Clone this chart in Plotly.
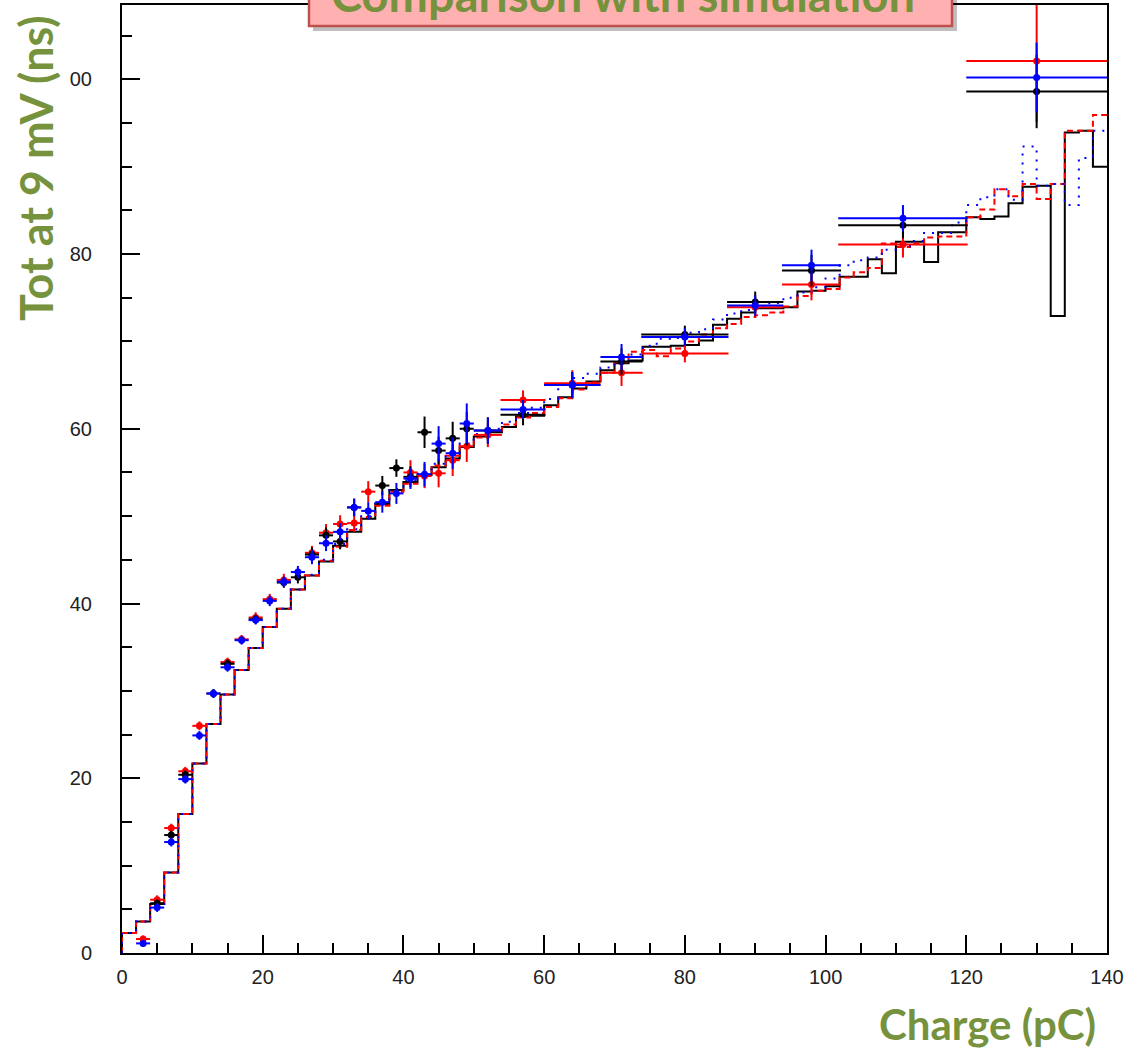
import plotly.graph_objects as go

# ---------------- data ----------------
bin_edges = list(range(0, 141, 2))  # 0..140, 2 pC bins

black_hist = [2.3, 3.6, 5.6, 9.2, 15.9, 21.7, 26.2, 29.6, 32.4, 34.9,
              37.3, 39.4, 41.6, 43.2, 44.8, 46.6, 48.2, 49.7, 51.4, 53.0,
              53.9, 54.7, 55.6, 56.6, 57.9, 59.1, 59.6, 60.2, 61.4, 61.5,
              62.7, 63.6, 64.6, 65.4, 66.7, 67.5, 67.8, 69.4, 69.4, 69.5,
              69.6, 70.1, 71.9, 72.6, 73.3, 73.8, 73.8, 73.9, 75.7, 75.8,
              76.3, 77.4, 77.4, 79.4, 77.8, 81.4, 81.4, 79.1, 82.5, 82.5,
              84.2, 84.0, 84.3, 85.8, 87.7, 87.8, 72.9, 93.9, 94.1, 90.0]

red_hist = [2.3, 3.6, 5.6, 9.2, 15.9, 21.7, 26.2, 29.6, 32.4, 34.9,
            37.3, 39.4, 41.6, 43.2, 44.9, 46.5, 48.4, 49.9, 51.2, 52.8,
            53.7, 54.6, 55.8, 56.9, 58.1, 59.0, 59.8, 60.5, 61.3, 61.8,
            62.5, 63.5, 64.5, 65.3, 66.4, 67.6, 68.8, 69.0, 68.3, 69.2,
            70.0, 70.8, 71.5, 72.0, 72.8, 73.0, 73.3, 74.0, 75.2, 75.8,
            76.0, 77.3, 77.9, 78.4, 81.2, 80.8, 81.2, 81.9, 82.0, 82.0,
            84.2, 85.1, 87.4, 86.6, 88.0, 86.3, 88.0, 94.1, 94.1, 95.9]

blue_hist = [2.3, 3.6, 5.6, 9.2, 15.9, 21.7, 26.2, 29.6, 32.4, 34.9,
             37.3, 39.4, 41.6, 43.3, 45.0, 46.8, 48.5, 50.0, 51.6, 53.1,
             54.1, 55.0, 56.0, 57.0, 58.3, 59.4, 60.0, 60.8, 61.8, 62.4,
             63.4, 65.0, 65.8, 66.3, 67.0, 67.6, 68.5, 69.5, 70.3, 70.4,
             71.0, 71.4, 72.5, 73.2, 73.6, 74.0, 74.4, 75.0, 75.6, 76.2,
             77.2, 78.7, 79.3, 79.6, 80.5, 80.9, 81.5, 82.4, 82.4, 83.6,
             85.6, 86.5, 87.4, 86.2, 92.3, 87.8, 88.0, 85.6, 91.0, 94.1]

black_x = [5, 7, 9, 13, 15, 19, 23, 25, 27, 29, 31, 33, 37, 39, 41, 43, 45, 47, 49,
           52, 57, 64, 71, 80, 90, 98, 111, 130]
black_y = [5.7, 13.5, 20.4, 29.7, 33.1, 38.2, 42.4, 43.0, 45.6, 47.8, 47.1, 51.0, 53.5,
           55.5, 54.5, 59.6, 57.5, 58.9, 60.0, 59.8, 61.6, 65.0, 67.7, 70.8, 74.5, 78.1,
           83.3, 98.6]
black_ex = [1] * 19 + [2, 3.2, 4, 3, 6.2, 4, 4.2, 9.2, 10]
black_ey = [0.4, 0.5, 0.5, 0.5, 0.5, 0.5, 0.6, 0.7, 0.8, 0.9, 0.9, 1.0, 1.1, 1.0, 1.2,
            1.8, 1.6, 1.9, 1.9, 1.5, 1.2, 1.5, 1.5, 1.0, 1.2, 1.8, 1.5, 4.2]

red_x = [3, 5, 7, 9, 11, 15, 17, 19, 21, 23, 27, 29, 31, 33, 35, 41, 43, 45, 47, 49,
         52, 57, 64, 71, 80, 90, 98, 111, 130]
red_y = [1.6, 6.1, 14.3, 20.8, 26.0, 33.3, 35.9, 38.4, 40.5, 42.7, 45.8, 48.1, 49.1,
         49.2, 52.8, 55.0, 54.6, 54.9, 56.4, 58.0, 59.3, 63.3, 65.2, 66.4, 68.6, 73.9,
         76.5, 81.1, 102.1]
red_ex = [1] * 20 + [2, 3.2, 4, 3, 6.2, 4, 4.2, 9.2, 10]
red_ey = [0.4, 0.5, 0.5, 0.5, 0.5, 0.5, 0.5, 0.6, 0.6, 0.7, 0.8, 1.0, 1.0, 1.0, 1.2,
          1.4, 1.4, 1.6, 1.8, 1.8, 1.4, 1.1, 1.5, 1.5, 1.0, 1.2, 1.8, 1.5, 7.0]

blue_x = [3, 5, 7, 9, 11, 13, 15, 17, 19, 21, 23, 25, 27, 29, 31, 33, 35, 37, 39, 41,
          43, 45, 47, 49, 52, 57, 64, 71, 80, 90, 98, 111, 130]
blue_y = [1.1, 5.2, 12.7, 19.9, 24.9, 29.7, 32.7, 35.8, 38.1, 40.3, 42.5, 43.6, 45.3,
          46.9, 48.2, 51.0, 50.6, 51.6, 52.6, 54.3, 54.8, 58.3, 57.2, 60.6, 59.8, 62.2,
          65.0, 68.2, 70.5, 74.1, 78.7, 84.1, 100.2]
blue_ex = [1] * 24 + [2, 3.2, 4, 3, 6.2, 4, 4.2, 9.2, 10]
blue_ey = [0.4, 0.5, 0.5, 0.5, 0.5, 0.5, 0.5, 0.5, 0.5, 0.6, 0.6, 0.7, 0.8, 0.9, 1.0,
           1.0, 1.0, 1.2, 1.2, 1.2, 1.4, 2.0, 1.8, 2.3, 1.5, 1.1, 1.5, 1.5, 1.0, 1.2,
           1.8, 1.5, 4.0]

x_ticks = [0, 20, 40, 60, 80, 100, 120, 140]
y_ticks = [0, 20, 40, 60, 80, 100]

title_text = "Comparison with simulation"
x_title = "Charge (pC)"
y_title = "Tot at 9 mV (ns)"

GREEN = "#76923C"
RED = "#FF0000"
BLUE = "#0000FF"
BLACK = "#000000"

fig = go.Figure()


def hist_trace(vals, color, dash, width):
    xs = [bin_edges[0]] + bin_edges[:-1] + [bin_edges[-1]]
    ys = [0] + vals + [vals[-1]]
    return go.Scatter(x=xs, y=ys, mode="lines", line_shape="hv",
                      line=dict(color=color, dash=dash, width=width),
                      hoverinfo="skip", showlegend=False)


fig.add_trace(hist_trace(black_hist, BLACK, "solid", 2))
fig.add_trace(hist_trace(red_hist, RED, "6px,4px", 2))
fig.add_trace(hist_trace(blue_hist, BLUE, "2px,7px", 2))


def pts(xv, yv, ex, ey, color):
    return go.Scatter(x=xv, y=yv, mode="markers",
                      marker=dict(color=color, size=7, symbol="circle"),
                      error_x=dict(type="data", array=ex, color=color, thickness=2, width=0),
                      error_y=dict(type="data", array=ey, color=color, thickness=2, width=0),
                      showlegend=False)


fig.add_trace(pts(red_x, red_y, red_ex, red_ey, RED))
fig.add_trace(pts(black_x, black_y, black_ex, black_ey, BLACK))
fig.add_trace(pts(blue_x, blue_y, blue_ex, blue_ey, BLUE))

tickfont = dict(family="Liberation Sans Narrow, Liberation Sans, Arial", size=20, color="#222222")

fig.update_xaxes(range=[0, 140], tickvals=x_ticks, ticks="inside", ticklen=18, tickwidth=1.5,
                 tickcolor="black", showline=True, linecolor="black", linewidth=2, mirror=True,
                 showgrid=False, zeroline=False, tickfont=tickfont, ticklabelstandoff=5,
                 minor=dict(dtick=5, ticks="inside", ticklen=10, tickwidth=1.5, tickcolor="black",
                            showgrid=False))
fig.update_yaxes(range=[0, 108.5], tickvals=y_ticks, ticks="inside", ticklen=18, tickwidth=1.5,
                 tickcolor="black", showline=True, linecolor="black", linewidth=2, mirror=True,
                 showgrid=False, zeroline=False, tickfont=tickfont, ticklabelstandoff=24,
                 minor=dict(dtick=5, ticks="inside", ticklen=10, tickwidth=1.5, tickcolor="black",
                            showgrid=False))

W, H = 1134, 1048
L, R, T, B = 122, 27, 5, 95
pw, ph = W - L - R, H - T - B


def px2paper_x(px):
    return (px - L) / pw


def px2paper_y(py):
    return (H - B - py) / ph


# title box (shadow + box)
fig.add_shape(type="rect", xref="paper", yref="paper",
              x0=px2paper_x(313), x1=px2paper_x(957), y0=px2paper_y(31), y1=px2paper_y(-20),
              fillcolor="rgba(0,0,0,0.25)", line=dict(width=0), layer="above")
fig.add_shape(type="rect", xref="paper", yref="paper",
              x0=px2paper_x(309), x1=px2paper_x(952), y0=px2paper_y(26), y1=px2paper_y(-20),
              fillcolor="#FFB0B0", line=dict(color="#C0504D", width=2.5), layer="above")

fig.add_annotation(text="<b>" + title_text + "</b>", xref="paper", yref="paper",
                   x=px2paper_x(623), y=px2paper_y(-6), xanchor="center", yanchor="middle",
                   showarrow=False, font=dict(family="Lato", size=47, color=GREEN))

fig.add_annotation(text="<b>" + x_title + "</b>", xref="paper", yref="paper",
                   x=px2paper_x(1098), y=px2paper_y(1024), xanchor="right", yanchor="middle",
                   showarrow=False, font=dict(family="Lato", size=42, color=GREEN))

fig.add_annotation(text="<b>" + y_title + "</b>", xref="paper", yref="paper",
                   x=px2paper_x(36), y=px2paper_y(168), xanchor="center", yanchor="middle",
                   textangle=-90, showarrow=False, bgcolor="white", borderpad=6,
                   font=dict(family="Lato", size=45, color=GREEN))

fig.update_layout(width=W, height=H, margin=dict(l=L, r=R, t=T, b=B, autoexpand=False),
                  plot_bgcolor="white", paper_bgcolor="white", showlegend=False)

fig.write_html("out.html")
